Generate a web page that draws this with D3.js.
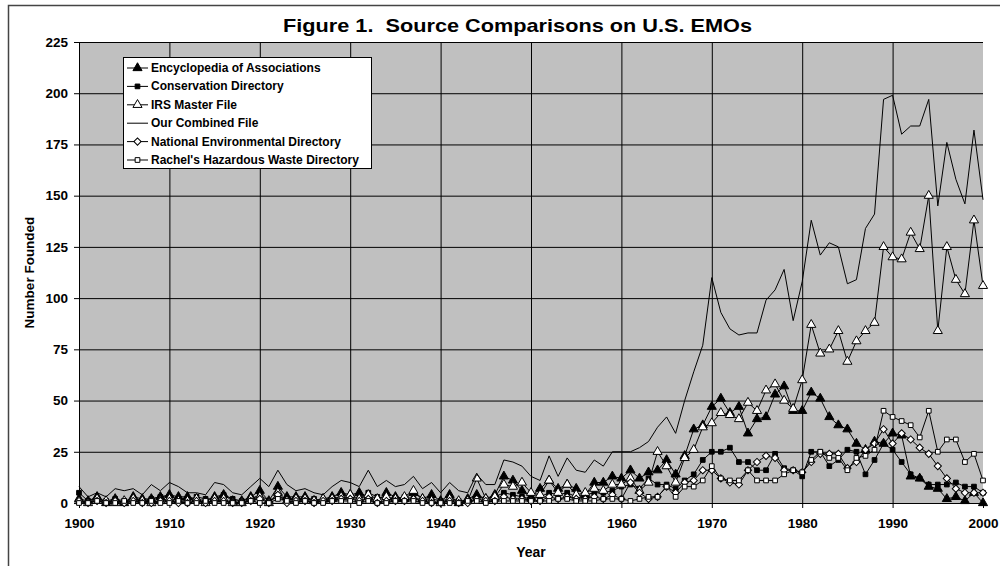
<!DOCTYPE html>
<html>
<head>
<meta charset="utf-8">
<script src="https://cdn.jsdelivr.net/npm/d3@7"></script>
<style>
  body { margin: 0; background: #fff; }
  text { font-family: Arial, "Liberation Sans", sans-serif; font-weight: bold; fill: #000; }
</style>
</head>
<body>
<svg width="1000" height="566"></svg>
<script>
// years on the x axis, 1900..2000
const years = d3.range(1900, 2001);
const xTicks = [1900, 1910, 1920, 1930, 1940, 1950, 1960, 1970, 1980, 1990, 2000];
const yTicks = [0, 25, 50, 75, 100, 125, 150, 175, 200, 225];

// one row per decade
const encyclopedia = [
  2,1,3,0,2,0,3,2,2,3,
  4,3,3,2,1,3,4,1,1,3,
  6,1,8,3,3,3,1,2,3,5,
  4,5,3,1,5,3,2,5,2,4,
  1,4,0,2,4,2,4,13,11,6,
  3,7,11,7,9,7,4,10,10,13,
  12,16,12,15,16,21,14,23,36,38,
  47,51,44,47,34,41,42,53,57,45,
  45,54,51,42,38,36,29,26,30,29,
  34,33,13,12,8,7,2,3,1,5,
  0];
const conservation = [
  5,1,2,1,2,1,2,1,2,3,
  3,2,1,3,2,2,4,2,1,2,
  4,1,3,2,2,2,2,1,2,3,
  2,2,5,3,2,2,3,2,2,2,
  1,2,1,1,3,2,3,5,4,3,
  2,3,5,4,5,3,4,5,5,6,
  8,9,7,12,9,9,7,11,14,21,
  25,25,27,20,20,16,16,24,17,16,
  13,25,25,18,21,26,25,14,21,29,
  26,20,14,12,9,9,9,10,8,8,
  5];
const irs = [
  1,0,2,1,0,1,2,1,0,1,
  2,1,1,2,0,2,2,0,0,2,
  3,0,5,1,2,2,1,2,2,3,
  4,2,4,2,3,2,3,6,2,1,
  0,2,1,1,12,2,3,9,8,10,
  5,4,11,5,9,4,5,7,6,9,
  9,12,6,10,25,18,10,22,26,37,
  39,44,43,41,49,45,55,58,50,46,
  60,87,73,75,84,69,79,84,88,125,
  120,119,132,124,150,84,125,109,102,138,
  106];
const combined = [
  8,3,5,3,7,6,7,4,9,6,
  10,8,5,5,4,10,9,5,4,8,
  12,8,16,9,6,7,5,4,8,11,
  10,8,16,8,11,8,9,13,7,10,
  5,10,6,5,14,9,9,21,20,18,
  13,11,23,13,22,16,15,21,18,25,
  25,25,27,30,37,42,34,50,64,77,
  110,93,85,82,83,83,99,104,114,89,
  108,138,121,127,125,107,109,134,141,197,
  199,180,184,184,197,145,176,158,146,182,
  148];
const national = [
  1,0,1,0,1,0,1,0,0,1,
  1,0,0,1,0,1,1,0,0,1,
  2,0,4,0,1,1,0,1,1,2,
  2,1,2,0,1,1,1,2,1,0,
  0,1,0,0,2,1,1,3,2,2,
  1,1,3,2,3,2,2,3,2,4,
  2,10,5,2,3,8,5,10,11,16,
  16,12,10,9,16,20,23,22,16,16,
  15,20,24,24,24,17,20,26,29,36,
  29,34,31,27,24,18,12,7,5,5,
  5];
const rachels = [
  0,0,1,0,0,1,0,0,1,0,
  0,1,0,0,1,0,0,0,0,1,
  0,0,2,1,0,1,0,0,1,1,
  1,0,1,0,0,1,1,1,0,0,
  0,0,0,1,1,0,1,1,1,1,
  1,1,1,2,2,1,1,1,2,2,
  2,1,2,3,3,8,3,8,8,11,
  18,12,11,11,16,11,11,11,14,16,
  15,21,25,22,22,16,22,23,26,45,
  42,40,38,32,45,25,31,31,20,24,
  11];

const series = [
  { name: "Encyclopedia of Associations", values: encyclopedia, marker: "triFilled" },
  { name: "Conservation Directory", values: conservation, marker: "sqFilled" },
  { name: "IRS Master File", values: irs, marker: "triOpen" },
  { name: "Our Combined File", values: combined, marker: null },
  { name: "National Environmental Directory", values: national, marker: "diamond" },
  { name: "Rachel's Hazardous Waste Directory", values: rachels, marker: "sqOpen" }
];

const svg = d3.select("svg");
const plotL = 79, plotR = 983, plotT = 42, plotB = 503;

const x = d3.scaleLinear().domain([1900, 2000]).range([plotL, plotR]);
const y = d3.scaleLinear().domain([0, 225]).range([plotB, plotT]);

// outer chart frame (only top and left edges show)
svg.append("rect")
  .attr("x", 8.5).attr("y", 5.5)
  .attr("width", 1100).attr("height", 700)
  .attr("fill", "none").attr("stroke", "#444").attr("stroke-width", 1.5);

svg.append("text")
  .attr("x", 283).attr("y", 32)
  .attr("xml:space", "preserve")
  .attr("textLength", 469)
  .attr("lengthAdjust", "spacingAndGlyphs")
  .style("white-space", "pre")
  .style("font-size", "19px")
  .text("Figure 1.  Source Comparisons on U.S. EMOs");

// plot area
svg.append("rect")
  .attr("x", plotL).attr("y", plotT)
  .attr("width", plotR - plotL).attr("height", plotB - plotT)
  .attr("fill", "#c0c0c0");

// gridlines
svg.append("g")
  .attr("transform", `translate(0,${plotB})`)
  .call(d3.axisBottom(x).tickValues(xTicks.slice(1, -1)).tickSize(-(plotB - plotT)).tickFormat(""))
  .call(g => g.select(".domain").remove())
  .selectAll("line").attr("stroke", "#000");
svg.append("g")
  .attr("transform", `translate(${plotL},0)`)
  .call(d3.axisLeft(y).tickValues(yTicks.slice(1)).tickSize(-(plotR - plotL)).tickFormat(""))
  .call(g => g.select(".domain").remove())
  .selectAll("line").attr("stroke", "#000");

// axes
const xAxis = svg.append("g")
  .attr("transform", `translate(0,${plotB})`)
  .call(d3.axisBottom(x).tickValues(xTicks).tickFormat(d3.format("d")).tickSize(5).tickPadding(10));
const yAxis = svg.append("g")
  .attr("transform", `translate(${plotL},0)`)
  .call(d3.axisLeft(y).tickValues(yTicks).tickSize(5).tickPadding(6));
[xAxis, yAxis].forEach(g => {
  g.selectAll("text").style("font-size", "13.5px").style("font-family", "Arial, 'Liberation Sans', sans-serif");
  g.select(".domain").attr("stroke", "#000");
  g.selectAll("line").attr("stroke", "#000");
});

svg.append("text")
  .attr("x", (plotL + plotR) / 2).attr("y", 557)
  .attr("text-anchor", "middle")
  .style("font-size", "14px")
  .text("Year");

svg.append("text")
  .attr("transform", `translate(34,${(plotT + plotB) / 2}) rotate(-90)`)
  .attr("text-anchor", "middle")
  .style("font-size", "13.5px")
  .text("Number Founded");

// marker drawing
function drawMarker(sel, type) {
  if (type === "triFilled" || type === "triOpen") {
    sel.append("path")
      .attr("d", d3.symbol(d3.symbolTriangle, 36)())
      .attr("fill", type === "triFilled" ? "#000" : "#fff")
      .attr("stroke", "#000").attr("stroke-width", 1);
  } else if (type === "sqFilled" || type === "sqOpen") {
    sel.append("path")
      .attr("d", d3.symbol(d3.symbolSquare, 22)())
      .attr("fill", type === "sqFilled" ? "#000" : "#fff")
      .attr("stroke", "#000").attr("stroke-width", 1);
  } else if (type === "diamond") {
    sel.append("path")
      .attr("d", d3.symbol(d3.symbolSquare, 26)())
      .attr("transform", "rotate(45)")
      .attr("fill", "#fff")
      .attr("stroke", "#000").attr("stroke-width", 1);
  }
}

const line = d3.line().x((d, i) => x(years[i])).y(d => y(d));

const plot = svg.append("g");
series.forEach(s => {
  const g = plot.append("g");
  g.append("path")
    .datum(s.values)
    .attr("d", line)
    .attr("fill", "none")
    .attr("stroke", "#000")
    .attr("stroke-width", 1);
  if (s.marker) {
    g.selectAll("g.pt")
      .data(s.values)
      .enter()
      .append("g")
      .attr("class", "pt")
      .attr("transform", (d, i) => `translate(${x(years[i])},${y(d)})`)
      .each(function () { drawMarker(d3.select(this), s.marker); });
  }
});

// legend
const legend = svg.append("g");
legend.append("rect")
  .attr("x", 123.5).attr("y", 57.5)
  .attr("width", 248).attr("height", 111)
  .attr("fill", "#fff").attr("stroke", "#000");
series.forEach((s, i) => {
  const cy = 68 + i * 18.4;
  const row = legend.append("g").attr("transform", `translate(0,${cy})`);
  row.append("line")
    .attr("x1", 127).attr("x2", 148)
    .attr("stroke", "#000");
  if (s.marker) {
    const m = row.append("g").attr("transform", "translate(137.5,0)");
    drawMarker(m, s.marker);
  }
  row.append("text")
    .attr("x", 151).attr("y", 4)
    .style("font-size", "12px")
    .text(s.name);
});
</script>
</body>
</html>
